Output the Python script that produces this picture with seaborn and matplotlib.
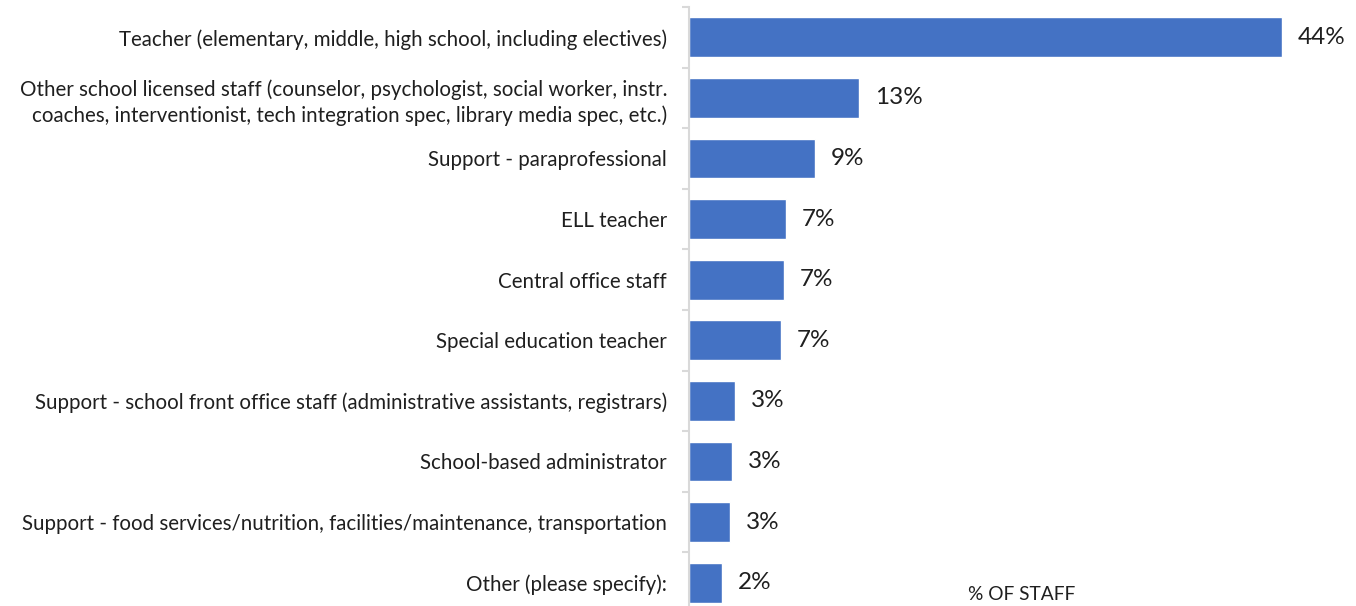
import matplotlib
matplotlib.use("Agg")
import matplotlib.pyplot as plt
import seaborn as sns
import pandas as pd
import numpy as np

# Staff roles (top to bottom) and their share of all staff
roles = [
    "Teacher (elementary, middle, high school, including electives)",
    "Other school licensed staff (counselor, psychologist, social worker, instr.\n"
    "coaches, interventionist, tech integration spec, library media spec, etc.)",
    "Support - paraprofessional",
    "ELL teacher",
    "Central office staff",
    "Special education teacher",
    "Support - school front office staff (administrative assistants, registrars)",
    "School-based administrator",
    "Support - food services/nutrition, facilities/maintenance, transportation",
    "Other (please specify):",
]
share = [44.0, 12.6, 9.3, 7.2, 7.0, 6.8, 3.4, 3.2, 3.0, 2.4]
axis_title = "% OF STAFF"

df = pd.DataFrame({"role": roles, "share": share})

sns.set_theme(style="white")
plt.rcParams["font.family"] = ["Lato", "DejaVu Sans"]

text_color = "#1F1F1F"
bar_color = "#4472C4"
axis_color = "#D9D9D9"

W, H = 1356, 606
fig = plt.figure(figsize=(W / 100, H / 100), dpi=100)

# axes spans the bar area; category slots are ~60.6 px tall
x0_px, top_px, slot_px = 689.3, 7, 60.6
n = len(roles)
bottom_px = top_px + n * slot_px
ax = fig.add_axes([x0_px / W, 1 - bottom_px / H, 1 - x0_px / W, (bottom_px - top_px) / H])

sns.barplot(data=df, x="share", y="role", color=bar_color, width=0.66,
            saturation=1, ax=ax, orient="h")

px_per_unit = 592.4 / 44.0
ax.set_xlim(0, (W - x0_px) / px_per_unit)
ax.set_ylim(n - 0.5, -0.5)

# value labels
for i, v in enumerate(share):
    ax.text(v + 16 / px_per_unit, i, f"{v:.0f}%", va="center", ha="left",
            fontsize=17.5, color=text_color)

# axes styling: only a light vertical axis with ticks between categories
for s in ["top", "right", "bottom"]:
    ax.spines[s].set_visible(False)
ax.spines["left"].set_color(axis_color)
ax.spines["left"].set_linewidth(1.5)
ax.set_xticks([])
ax.set_xlabel("")
ax.set_ylabel("")
ax.set_yticks(range(n))
ax.set_yticklabels(roles, fontsize=14.8, color=text_color,
                   multialignment="right", linespacing=1.35)
ax.tick_params(axis="y", which="major", length=0, pad=16)
ax.set_yticks(np.arange(-0.5, n, 1.0), minor=True)
ax.tick_params(axis="y", which="minor", length=5, width=1.5, color=axis_color, left=True)

fig.text(1022 / W, 1 - 600 / H, axis_title, ha="center", va="baseline",
         fontsize=13.8, color=text_color)

fig.savefig("out.png", dpi=100)
